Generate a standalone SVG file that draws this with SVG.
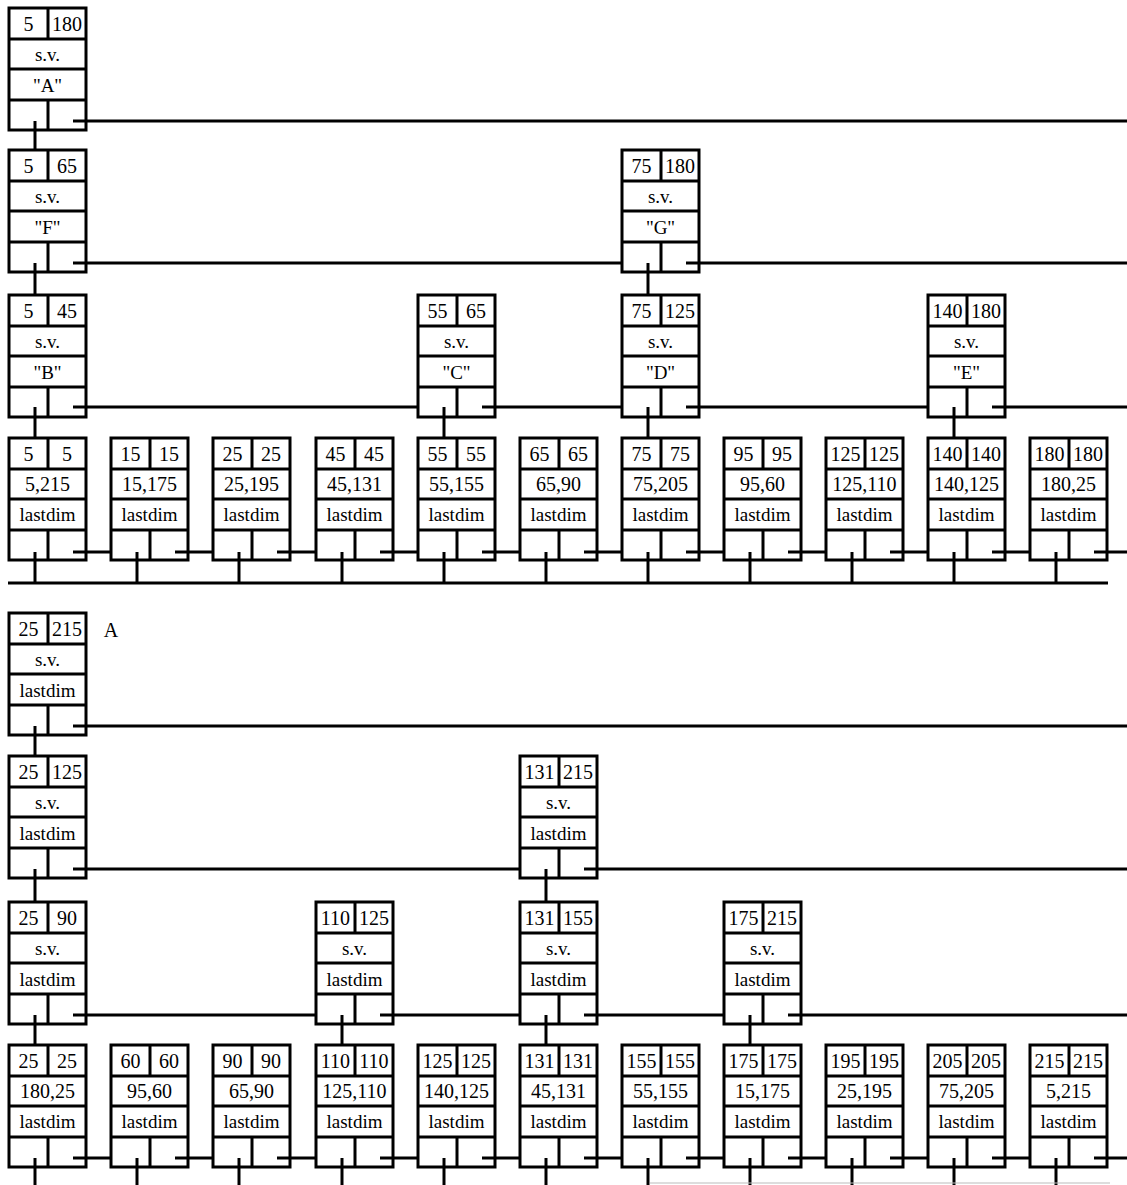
<svg xmlns="http://www.w3.org/2000/svg" xmlns:xlink="http://www.w3.org/1999/xlink" width="1127" height="1185" viewBox="0 0 1127 1185">
<style>
.f{fill:#fff;stroke:#000;stroke-width:3}
.d{stroke:#000;stroke-width:3;fill:none}
.c line{stroke:#000;stroke-width:3}
text{font-family:"Liberation Serif","Times New Roman",serif;fill:#000;text-anchor:middle}
.n{font-size:20px}
.s{font-size:19px}
.l{font-size:19px}
</style>
<defs>
<g id="fr">
<rect class="f" x="0" y="0" width="77" height="122"/>
<path class="d" d="M0 31H77M0 61H77M0 92H77M39 0V31M39 92V122"/>
</g>
</defs>
<rect width="1127" height="1185" fill="#fff"/>

<g id="nA" transform="translate(9,8)"><use xlink:href="#fr"/><text class="n" x="19.5" y="23">5</text><text class="n" x="58" y="23">180</text><text class="s" x="38.5" y="53">s.v.</text><text class="l" x="38.5" y="84">"A"</text></g>
<g id="nF" transform="translate(9,150)"><use xlink:href="#fr"/><text class="n" x="19.5" y="23">5</text><text class="n" x="58" y="23">65</text><text class="s" x="38.5" y="53">s.v.</text><text class="l" x="38.5" y="84">"F"</text></g>
<g id="nG" transform="translate(622,150)"><use xlink:href="#fr"/><text class="n" x="19.5" y="23">75</text><text class="n" x="58" y="23">180</text><text class="s" x="38.5" y="53">s.v.</text><text class="l" x="38.5" y="84">"G"</text></g>
<g id="nB" transform="translate(9,295)"><use xlink:href="#fr"/><text class="n" x="19.5" y="23">5</text><text class="n" x="58" y="23">45</text><text class="s" x="38.5" y="53">s.v.</text><text class="l" x="38.5" y="84">"B"</text></g>
<g id="nC" transform="translate(418,295)"><use xlink:href="#fr"/><text class="n" x="19.5" y="23">55</text><text class="n" x="58" y="23">65</text><text class="s" x="38.5" y="53">s.v.</text><text class="l" x="38.5" y="84">"C"</text></g>
<g id="nD" transform="translate(622,295)"><use xlink:href="#fr"/><text class="n" x="19.5" y="23">75</text><text class="n" x="58" y="23">125</text><text class="s" x="38.5" y="53">s.v.</text><text class="l" x="38.5" y="84">"D"</text></g>
<g id="nE" transform="translate(928,295)"><use xlink:href="#fr"/><text class="n" x="19.5" y="23">140</text><text class="n" x="58" y="23">180</text><text class="s" x="38.5" y="53">s.v.</text><text class="l" x="38.5" y="84">"E"</text></g>

<g id="t1" transform="translate(9,438)"><use xlink:href="#fr"/><text class="n" x="19.5" y="23">5</text><text class="n" x="58" y="23">5</text><text class="n" x="38.5" y="53">5,215</text><text class="l" x="38.5" y="83">lastdim</text></g>
<g id="t2" transform="translate(111,438)"><use xlink:href="#fr"/><text class="n" x="19.5" y="23">15</text><text class="n" x="58" y="23">15</text><text class="n" x="38.5" y="53">15,175</text><text class="l" x="38.5" y="83">lastdim</text></g>
<g id="t3" transform="translate(213,438)"><use xlink:href="#fr"/><text class="n" x="19.5" y="23">25</text><text class="n" x="58" y="23">25</text><text class="n" x="38.5" y="53">25,195</text><text class="l" x="38.5" y="83">lastdim</text></g>
<g id="t4" transform="translate(316,438)"><use xlink:href="#fr"/><text class="n" x="19.5" y="23">45</text><text class="n" x="58" y="23">45</text><text class="n" x="38.5" y="53">45,131</text><text class="l" x="38.5" y="83">lastdim</text></g>
<g id="t5" transform="translate(418,438)"><use xlink:href="#fr"/><text class="n" x="19.5" y="23">55</text><text class="n" x="58" y="23">55</text><text class="n" x="38.5" y="53">55,155</text><text class="l" x="38.5" y="83">lastdim</text></g>
<g id="t6" transform="translate(520,438)"><use xlink:href="#fr"/><text class="n" x="19.5" y="23">65</text><text class="n" x="58" y="23">65</text><text class="n" x="38.5" y="53">65,90</text><text class="l" x="38.5" y="83">lastdim</text></g>
<g id="t7" transform="translate(622,438)"><use xlink:href="#fr"/><text class="n" x="19.5" y="23">75</text><text class="n" x="58" y="23">75</text><text class="n" x="38.5" y="53">75,205</text><text class="l" x="38.5" y="83">lastdim</text></g>
<g id="t8" transform="translate(724,438)"><use xlink:href="#fr"/><text class="n" x="19.5" y="23">95</text><text class="n" x="58" y="23">95</text><text class="n" x="38.5" y="53">95,60</text><text class="l" x="38.5" y="83">lastdim</text></g>
<g id="t9" transform="translate(826,438)"><use xlink:href="#fr"/><text class="n" x="19.5" y="23">125</text><text class="n" x="58" y="23">125</text><text class="n" x="38.5" y="53">125,110</text><text class="l" x="38.5" y="83">lastdim</text></g>
<g id="t10" transform="translate(928,438)"><use xlink:href="#fr"/><text class="n" x="19.5" y="23">140</text><text class="n" x="58" y="23">140</text><text class="n" x="38.5" y="53">140,125</text><text class="l" x="38.5" y="83">lastdim</text></g>
<g id="t11" transform="translate(1030,438)"><use xlink:href="#fr"/><text class="n" x="19.5" y="23">180</text><text class="n" x="58" y="23">180</text><text class="n" x="38.5" y="53">180,25</text><text class="l" x="38.5" y="83">lastdim</text></g>

<text id="labelA" class="n" x="111" y="637">A</text>

<g id="m1" transform="translate(9,613)"><use xlink:href="#fr"/><text class="n" x="19.5" y="23">25</text><text class="n" x="58" y="23">215</text><text class="s" x="38.5" y="53">s.v.</text><text class="l" x="38.5" y="84">lastdim</text></g>
<g id="m2" transform="translate(9,756)"><use xlink:href="#fr"/><text class="n" x="19.5" y="23">25</text><text class="n" x="58" y="23">125</text><text class="s" x="38.5" y="53">s.v.</text><text class="l" x="38.5" y="84">lastdim</text></g>
<g id="m3" transform="translate(520,756)"><use xlink:href="#fr"/><text class="n" x="19.5" y="23">131</text><text class="n" x="58" y="23">215</text><text class="s" x="38.5" y="53">s.v.</text><text class="l" x="38.5" y="84">lastdim</text></g>
<g id="m4" transform="translate(9,902)"><use xlink:href="#fr"/><text class="n" x="19.5" y="23">25</text><text class="n" x="58" y="23">90</text><text class="s" x="38.5" y="53">s.v.</text><text class="l" x="38.5" y="84">lastdim</text></g>
<g id="m5" transform="translate(316,902)"><use xlink:href="#fr"/><text class="n" x="19.5" y="23">110</text><text class="n" x="58" y="23">125</text><text class="s" x="38.5" y="53">s.v.</text><text class="l" x="38.5" y="84">lastdim</text></g>
<g id="m6" transform="translate(520,902)"><use xlink:href="#fr"/><text class="n" x="19.5" y="23">131</text><text class="n" x="58" y="23">155</text><text class="s" x="38.5" y="53">s.v.</text><text class="l" x="38.5" y="84">lastdim</text></g>
<g id="m7" transform="translate(724,902)"><use xlink:href="#fr"/><text class="n" x="19.5" y="23">175</text><text class="n" x="58" y="23">215</text><text class="s" x="38.5" y="53">s.v.</text><text class="l" x="38.5" y="84">lastdim</text></g>

<g id="u1" transform="translate(9,1045)"><use xlink:href="#fr"/><text class="n" x="19.5" y="23">25</text><text class="n" x="58" y="23">25</text><text class="n" x="38.5" y="53">180,25</text><text class="l" x="38.5" y="83">lastdim</text></g>
<g id="u2" transform="translate(111,1045)"><use xlink:href="#fr"/><text class="n" x="19.5" y="23">60</text><text class="n" x="58" y="23">60</text><text class="n" x="38.5" y="53">95,60</text><text class="l" x="38.5" y="83">lastdim</text></g>
<g id="u3" transform="translate(213,1045)"><use xlink:href="#fr"/><text class="n" x="19.5" y="23">90</text><text class="n" x="58" y="23">90</text><text class="n" x="38.5" y="53">65,90</text><text class="l" x="38.5" y="83">lastdim</text></g>
<g id="u4" transform="translate(316,1045)"><use xlink:href="#fr"/><text class="n" x="19.5" y="23">110</text><text class="n" x="58" y="23">110</text><text class="n" x="38.5" y="53">125,110</text><text class="l" x="38.5" y="83">lastdim</text></g>
<g id="u5" transform="translate(418,1045)"><use xlink:href="#fr"/><text class="n" x="19.5" y="23">125</text><text class="n" x="58" y="23">125</text><text class="n" x="38.5" y="53">140,125</text><text class="l" x="38.5" y="83">lastdim</text></g>
<g id="u6" transform="translate(520,1045)"><use xlink:href="#fr"/><text class="n" x="19.5" y="23">131</text><text class="n" x="58" y="23">131</text><text class="n" x="38.5" y="53">45,131</text><text class="l" x="38.5" y="83">lastdim</text></g>
<g id="u7" transform="translate(622,1045)"><use xlink:href="#fr"/><text class="n" x="19.5" y="23">155</text><text class="n" x="58" y="23">155</text><text class="n" x="38.5" y="53">55,155</text><text class="l" x="38.5" y="83">lastdim</text></g>
<g id="u8" transform="translate(724,1045)"><use xlink:href="#fr"/><text class="n" x="19.5" y="23">175</text><text class="n" x="58" y="23">175</text><text class="n" x="38.5" y="53">15,175</text><text class="l" x="38.5" y="83">lastdim</text></g>
<g id="u9" transform="translate(826,1045)"><use xlink:href="#fr"/><text class="n" x="19.5" y="23">195</text><text class="n" x="58" y="23">195</text><text class="n" x="38.5" y="53">25,195</text><text class="l" x="38.5" y="83">lastdim</text></g>
<g id="u10" transform="translate(928,1045)"><use xlink:href="#fr"/><text class="n" x="19.5" y="23">205</text><text class="n" x="58" y="23">205</text><text class="n" x="38.5" y="53">75,205</text><text class="l" x="38.5" y="83">lastdim</text></g>
<g id="u11" transform="translate(1030,1045)"><use xlink:href="#fr"/><text class="n" x="19.5" y="23">215</text><text class="n" x="58" y="23">215</text><text class="n" x="38.5" y="53">5,215</text><text class="l" x="38.5" y="83">lastdim</text></g>

<g class="c" id="connectors">
<line x1="35" y1="121" x2="35" y2="150"/>
<line x1="35" y1="263" x2="35" y2="295"/>
<line x1="648" y1="263" x2="648" y2="295"/>
<line x1="35" y1="407" x2="35" y2="438"/>
<line x1="444" y1="407" x2="444" y2="438"/>
<line x1="648" y1="407" x2="648" y2="438"/>
<line x1="954" y1="407" x2="954" y2="438"/>
<line x1="73" y1="121" x2="1127" y2="121"/>
<line x1="73" y1="263" x2="622" y2="263"/>
<line x1="686" y1="263" x2="1127" y2="263"/>
<line x1="73" y1="407" x2="418" y2="407"/>
<line x1="482" y1="407" x2="622" y2="407"/>
<line x1="686" y1="407" x2="928" y2="407"/>
<line x1="992" y1="407" x2="1127" y2="407"/>
<line x1="73" y1="552" x2="111" y2="552"/>
<line x1="175" y1="552" x2="213" y2="552"/>
<line x1="277" y1="552" x2="316" y2="552"/>
<line x1="380" y1="552" x2="418" y2="552"/>
<line x1="482" y1="552" x2="520" y2="552"/>
<line x1="584" y1="552" x2="622" y2="552"/>
<line x1="686" y1="552" x2="724" y2="552"/>
<line x1="788" y1="552" x2="826" y2="552"/>
<line x1="890" y1="552" x2="928" y2="552"/>
<line x1="992" y1="552" x2="1030" y2="552"/>
<line x1="1094" y1="552" x2="1127" y2="552"/>
<line x1="35" y1="552" x2="35" y2="583"/>
<line x1="137" y1="552" x2="137" y2="583"/>
<line x1="239" y1="552" x2="239" y2="583"/>
<line x1="342" y1="552" x2="342" y2="583"/>
<line x1="444" y1="552" x2="444" y2="583"/>
<line x1="546" y1="552" x2="546" y2="583"/>
<line x1="648" y1="552" x2="648" y2="583"/>
<line x1="750" y1="552" x2="750" y2="583"/>
<line x1="852" y1="552" x2="852" y2="583"/>
<line x1="954" y1="552" x2="954" y2="583"/>
<line x1="1056" y1="552" x2="1056" y2="583"/>
<line x1="8" y1="583" x2="1108" y2="583"/>
<line x1="35" y1="726" x2="35" y2="756"/>
<line x1="73" y1="726" x2="1127" y2="726"/>
<line x1="73" y1="869" x2="520" y2="869"/>
<line x1="584" y1="869" x2="1127" y2="869"/>
<line x1="35" y1="869" x2="35" y2="902"/>
<line x1="546" y1="869" x2="546" y2="902"/>
<line x1="73" y1="1015" x2="316" y2="1015"/>
<line x1="380" y1="1015" x2="520" y2="1015"/>
<line x1="584" y1="1015" x2="724" y2="1015"/>
<line x1="788" y1="1015" x2="1127" y2="1015"/>
<line x1="35" y1="1015" x2="35" y2="1045"/>
<line x1="342" y1="1015" x2="342" y2="1045"/>
<line x1="546" y1="1015" x2="546" y2="1045"/>
<line x1="750" y1="1015" x2="750" y2="1045"/>
<line x1="73" y1="1158" x2="111" y2="1158"/>
<line x1="175" y1="1158" x2="213" y2="1158"/>
<line x1="277" y1="1158" x2="316" y2="1158"/>
<line x1="380" y1="1158" x2="418" y2="1158"/>
<line x1="482" y1="1158" x2="520" y2="1158"/>
<line x1="584" y1="1158" x2="622" y2="1158"/>
<line x1="686" y1="1158" x2="724" y2="1158"/>
<line x1="788" y1="1158" x2="826" y2="1158"/>
<line x1="890" y1="1158" x2="928" y2="1158"/>
<line x1="992" y1="1158" x2="1030" y2="1158"/>
<line x1="1094" y1="1158" x2="1127" y2="1158"/>
<line x1="35" y1="1158" x2="35" y2="1185"/>
<line x1="137" y1="1158" x2="137" y2="1185"/>
<line x1="239" y1="1158" x2="239" y2="1185"/>
<line x1="342" y1="1158" x2="342" y2="1185"/>
<line x1="444" y1="1158" x2="444" y2="1185"/>
<line x1="546" y1="1158" x2="546" y2="1185"/>
<line x1="648" y1="1158" x2="648" y2="1185"/>
<line x1="750" y1="1158" x2="750" y2="1185"/>
<line x1="852" y1="1158" x2="852" y2="1185"/>
<line x1="954" y1="1158" x2="954" y2="1185"/>
<line x1="1056" y1="1158" x2="1056" y2="1185"/>
<line x1="650" y1="1183" x2="1110" y2="1183" style="stroke:#bbb;stroke-width:1"/>
</g>
</svg>
